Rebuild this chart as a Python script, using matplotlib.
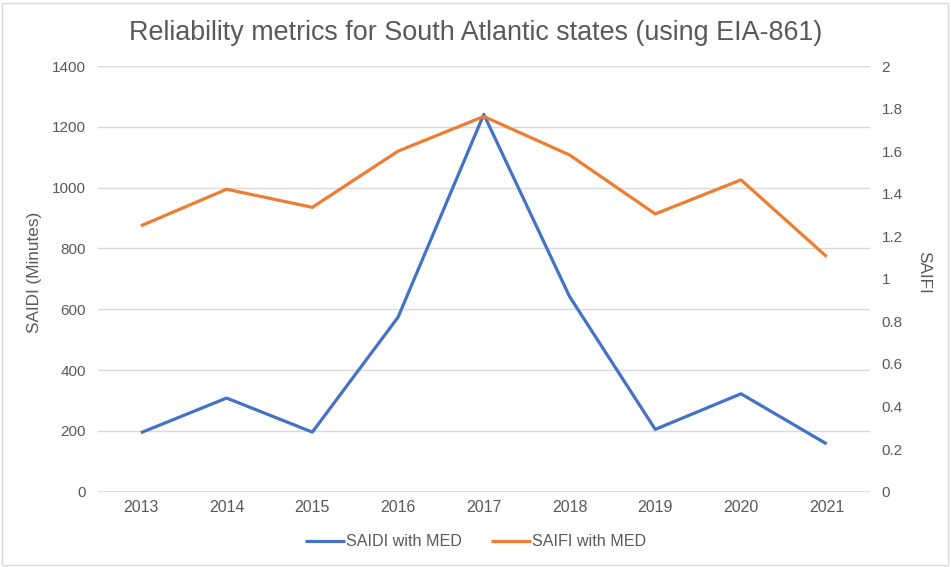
import matplotlib
matplotlib.use("Agg")
import matplotlib.pyplot as plt
from matplotlib.patches import Rectangle

plt.rcParams['font.family'] = ['Liberation Sans', 'DejaVu Sans']

years = ["2013", "2014", "2015", "2016", "2017", "2018", "2019", "2020", "2021"]
saidi = [194, 308, 196, 574, 1241, 642, 205, 322, 157]
saifi = [1.249, 1.421, 1.336, 1.60, 1.763, 1.582, 1.305, 1.465, 1.104]
left_ticks = [0, 200, 400, 600, 800, 1000, 1200, 1400]
right_ticks = [0, 0.2, 0.4, 0.6, 0.8, 1, 1.2, 1.4, 1.6, 1.8, 2]
right_labels = ["0", "0.2", "0.4", "0.6", "0.8", "1", "1.2", "1.4", "1.6", "1.8", "2"]

blue = "#4472C4"
orange = "#ED7D31"
txt = "#595959"
grid = "#D9D9D9"

W, H = 951, 567
fig = plt.figure(figsize=(W / 100, H / 100), dpi=100)
ax_left, ax_right, ax_top, ax_bot = 98, 869.6, 66, 491.7
ax = fig.add_axes([ax_left / W, 1 - ax_bot / H, (ax_right - ax_left) / W, (ax_bot - ax_top) / H])
ax2 = ax.twinx()

x = list(range(len(years)))
l1, = ax.plot(x, saidi, color=blue, lw=2.3, label="SAIDI with MED", solid_capstyle="butt")
l2, = ax2.plot(x, saifi, color=orange, lw=2.3, label="SAIFI with MED", solid_capstyle="butt")

ax.set_xlim(-0.5, len(years) - 0.5)
ax.set_ylim(0, 1400)
ax2.set_ylim(0, 2)
ax.set_yticks(left_ticks)
ax.set_yticklabels([str(t) for t in left_ticks])
ax2.set_yticks(right_ticks)
ax2.set_yticklabels(right_labels)
ax.set_xticks(x)
ax.set_xticklabels(years)

ax.yaxis.grid(True, color=grid, lw=1)
ax.set_axisbelow(True)
for a in (ax, ax2):
    for s in ("top", "left", "right", "bottom"):
        a.spines[s].set_visible(False)
    a.tick_params(axis="both", length=0, labelsize=11, labelcolor=txt)
ax.axhline(0, color=grid, lw=1.2, zorder=1)
ax.tick_params(axis="y", pad=8.5)
ax2.tick_params(axis="y", pad=8.5)
ax.tick_params(axis="x", pad=6, labelsize=11.5)

ax.set_ylabel("SAIDI (Minutes)", fontsize=12.3, color=txt)
ax2.set_ylabel("SAIFI", fontsize=12.3, color=txt, rotation=270)
axw = ax_right - ax_left
axh = ax_bot - ax_top
ax.yaxis.set_label_coords((35 - ax_left) / axw, (ax_bot - 272) / axh)
ax.yaxis.label.set_va("center")
ax2.yaxis.set_label_coords((924 - ax_left) / axw, (ax_bot - 272) / axh)
ax2.yaxis.label.set_va("center")

fig.text(0.5, 1 - 33 / H, "Reliability metrics for South Atlantic states (using EIA-861)",
         ha="center", va="center", fontsize=19.4, color=txt)

fig.legend(handles=[l1, l2], loc="center", bbox_to_anchor=(0.5, 1 - 542 / H),
           ncol=2, frameon=False, fontsize=11.6, handlelength=2.5, handletextpad=0.05,
           columnspacing=1.8, labelcolor=txt)

fig.patches.append(Rectangle((2 / W, 2 / H), (W - 5) / W, (H - 5) / H, transform=fig.transFigure,
                             fill=False, edgecolor="#D9D9D9", lw=1))

fig.savefig("out.png", dpi=100)
